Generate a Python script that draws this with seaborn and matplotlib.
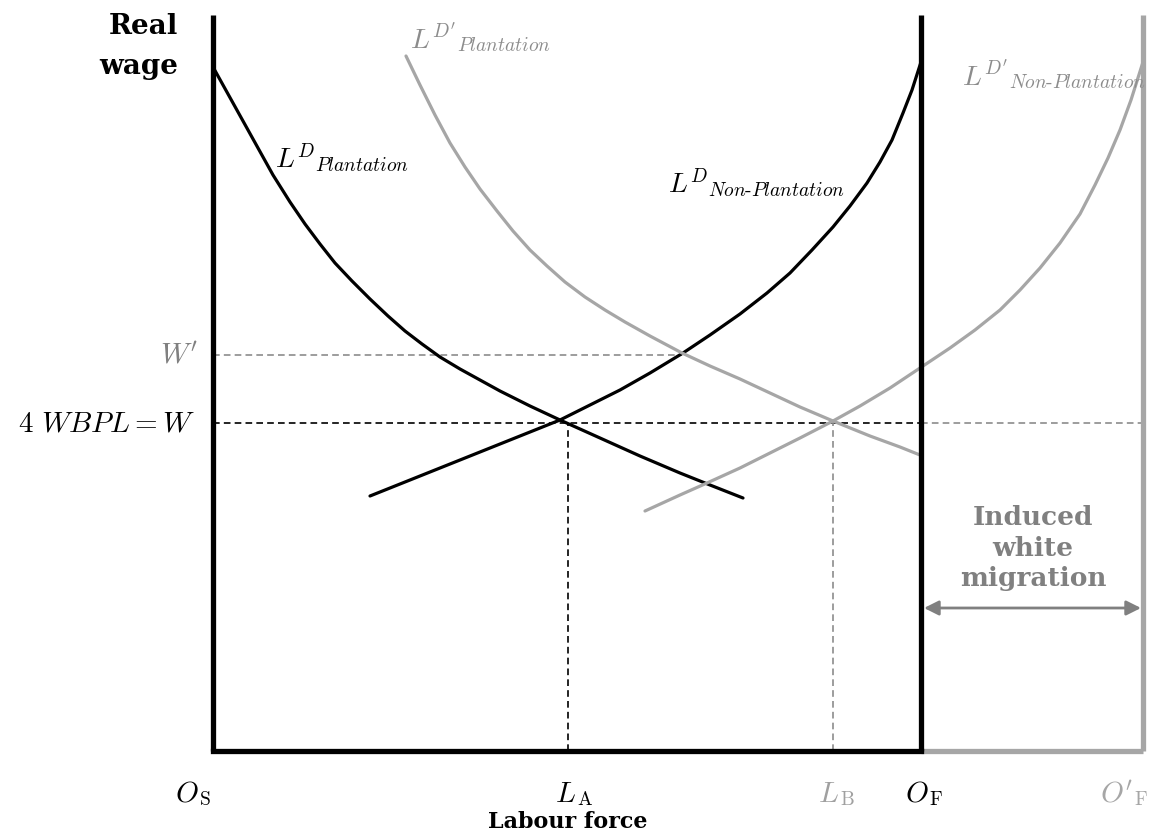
import pandas as pd
from matplotlib import pyplot as plt
import seaborn as sns

# curve points, x = labour from O_S, y = real wage (diagram units)
plant_x = [0, 20, 40, 60, 77, 92, 107, 122, 139, 157, 175, 192, 209, 227, 247,
           267, 287, 317, 347, 387, 427, 467, 497, 530]
plant_y = [684, 648, 612, 576, 549, 527, 507, 488, 470, 452, 435, 420, 407, 394,
           382, 371, 360, 345, 331, 313, 295, 278, 266, 253]
nonplant_x = [157, 197, 237, 277, 317, 347, 377, 407, 437, 470, 497, 527, 554,
              577, 599, 620, 637, 654, 667, 679, 690, 699, 708]
nonplant_y = [255, 271, 287, 303, 319, 331, 346, 361, 378, 398, 416, 437, 458,
              478, 501, 524, 545, 568, 589, 611, 638, 661, 689]
plant2_x = [193, 207, 222, 237, 252, 267, 284, 300, 317, 334, 352, 372, 392, 412,
            437, 469, 497, 527, 557, 587, 620, 657, 687, 707]
plant2_y = [695, 666, 636, 608, 584, 562, 540, 520, 501, 485, 469, 454, 441, 429,
            415, 398, 385, 372, 358, 344, 330, 315, 304, 296]
nonplant2_x = [432, 467, 494, 527, 557, 587, 620, 647, 677, 710, 737, 762, 787,
               807, 827, 847, 867, 882, 895, 907, 918, 930]
nonplant2_y = [240, 256, 268, 283, 298, 313, 330, 345, 363, 385, 403, 421, 441,
               461, 483, 508, 537, 566, 593, 621, 651, 689]

O_S, L_A, L_B, O_F, O_F2 = 0, 355, 620, 708, 930
W, W2 = 328, 396
top = 736

sns.set_theme(style='white')
plt.rcParams['mathtext.fontset'] = 'cm'
plt.rcParams['font.family'] = ['DejaVu Serif', 'DejaVu Sans']
plt.rcParams['text.color'] = 'black'

curves = pd.concat([
    pd.DataFrame({'x': plant_x, 'y': plant_y, 'curve': 'plant'}),
    pd.DataFrame({'x': nonplant_x, 'y': nonplant_y, 'curve': 'nonplant'}),
    pd.DataFrame({'x': plant2_x, 'y': plant2_y, 'curve': 'plant2'}),
    pd.DataFrame({'x': nonplant2_x, 'y': nonplant2_y, 'curve': 'nonplant2'}),
])
pal = {'plant': 'black', 'nonplant': 'black', 'plant2': '#a6a6a6', 'nonplant2': '#a6a6a6'}

fig = plt.figure(figsize=(11.6, 8.39), dpi=100)
ax = fig.add_axes([0, 0, 1, 1])
ax.set_xlim(-213, 947)
ax.set_ylim(-88, 751)
ax.axis('off')

# dashed guides
dash = (0, (4, 2.5))
ax.plot([O_S, 469], [W2, W2], color='#8c8c8c', lw=1.2, ls=dash)
ax.plot([O_S, O_F], [W, W], color='black', lw=1.2, ls=dash)
ax.plot([O_F, O_F2], [W, W], color='#8c8c8c', lw=1.2, ls=dash)
ax.plot([L_A, L_A], [0, W], color='black', lw=1.2, ls=dash)
ax.plot([L_B, L_B], [0, W], color='#8c8c8c', lw=1.2, ls=dash)

sns.lineplot(data=curves, x='x', y='y', hue='curve', palette=pal, sort=False,
             estimator=None, legend=False, linewidth=2.3, ax=ax)

# axes of the box diagram
ax.plot([O_F, O_F2], [0, 0], color='#a6a6a6', lw=3.8, solid_capstyle='butt')
ax.plot([O_F2, O_F2], [0, top], color='#a6a6a6', lw=3.8, solid_capstyle='butt')
ax.plot([O_S, O_F], [0, 0], color='black', lw=3.8, solid_capstyle='projecting')
ax.plot([O_S, O_S], [0, top], color='black', lw=3.8, solid_capstyle='butt')
ax.plot([O_F, O_F], [0, top], color='black', lw=3.8, solid_capstyle='butt')

ax.annotate('', xy=(O_F + 3, 143), xytext=(O_F2 - 2, 143),
            arrowprops=dict(arrowstyle='<|-|>', color='#808080', lw=2,
                            mutation_scale=22, shrinkA=0, shrinkB=0))

bold = dict(fontfamily='DejaVu Serif', fontweight='bold')
ax.text(-35, 738, 'Real\nwage', ha='right', va='top', fontsize=20,
        multialignment='right', linespacing=1.6, **bold)
ax.text(L_A, -71, 'Labour force', ha='center', va='center', fontsize=16, **bold)
ax.text(820, 203, 'Induced\nwhite\nmigration', ha='center', va='center',
        fontsize=19, color='#808080', linespacing=1.28, **bold)

ax.text(-15, W2, r"$W'$", ha='right', va='center', fontsize=21, color='#808080')
ax.text(-18, W, r'$4\ WBPL = W$', ha='right', va='center', fontsize=21)


def label(x, y, main, sub, size, subsize, color='black', drop=1.0):
    t = ax.text(x, y, main, ha='left', va='baseline', fontsize=size, color=color)
    ax.annotate(sub, xy=(1, 0), xycoords=t, xytext=(0.5, -drop),
                textcoords='offset points', ha='left', va='bottom',
                fontsize=subsize, color=color)


label(-38, -51, r'$O$', r'$\mathrm{S}$', 21, 14)
label(L_A - 13, -51, r'$L$', r'$\mathrm{A}$', 21, 14)
label(L_B - 15, -51, r'$L$', r'$\mathrm{B}$', 21, 14, color='#a0a0a0')
label(O_F - 16, -51, r'$O$', r'$\mathrm{F}$', 21, 14)
label(O_F2 - 43, -51, r"$O'$", r'$\mathrm{F}$', 21, 14, color='#a6a6a6')

label(62, 583, r'$L^{D}$', r'$Plantation$', 20, 14)
label(197, 703, r"$L^{D'}$", r'$Plantation$', 20, 14, color='#8c8c8c')
label(455, 558, r'$L^{D}$', r'$Non\text{-}Plantation$', 20, 14)
label(749, 666, r"$L^{D'}$", r'$Non\text{-}Plantation$', 20, 14, color='#8c8c8c')

fig.savefig('out.png', dpi=100)
